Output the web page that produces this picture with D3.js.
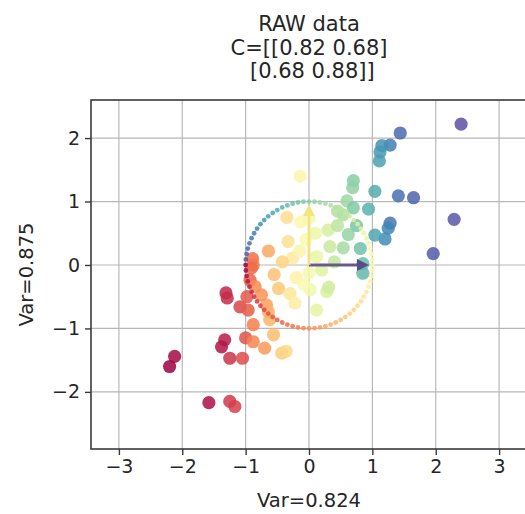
<!DOCTYPE html>
<html>
<head>
<meta charset="utf-8">
<script src="https://cdn.jsdelivr.net/npm/d3@7"></script>
<style>
  html, body { margin: 0; padding: 0; background: #fff; }
  svg { display: block; }
  text { font-family: "DejaVu Sans", sans-serif; fill: #262626; }
</style>
</head>
<body>
<div id="chart"></div>
<script>
// Sample points (x, y)
const pointsX = [2.40, 1.44, 1.28, 1.15, 1.12, 1.11, 0.70, 0.69, 1.04, 1.41,
  1.65, 2.29, 1.96, 0.94, 0.60, 1.28, 1.25, 1.20, 1.04, 0.81,
  0.85, 0.85, 0.70, 0.54, 0.28, 0.31, 0.12, 0.33, 0.54, 0.12,
  0.20, -0.14, -0.35, -0.33, -0.13, 0.00, -0.64, -0.26, -0.89, -0.88,
  -0.91, -0.93, -0.85, -1.09, -0.96, -0.67, -0.64, -0.48, -0.30, -0.22,
  0.02, -0.75, -1.31, -1.29, -0.98, -0.88, -1.00, -0.88, -0.56, -0.70,
  -0.43, -0.36, -1.33, -1.38, -1.25, -1.05, -2.12, -2.20, -1.58, -1.25,
  -1.17, 0.30, 0.45, 0.62, 0.75, -0.05, 0.10, -0.20, -0.08, 0.00,
  -0.15, 0.40, 0.45, -0.42, -0.55, -0.62];
const pointsY = [2.22, 2.08, 1.89, 1.88, 1.78, 1.64, 1.33, 1.22, 1.16, 1.09,
  1.06, 0.72, 0.18, 0.88, 1.01, 0.66, 0.58, 0.41, 0.47, 0.26,
  0.02, -0.13, 0.90, 0.79, -0.42, -0.35, 0.13, 0.29, 0.27, -0.71,
  -0.08, 1.40, 0.75, 0.37, 0.68, 0.74, 0.22, 0.11, 0.10, 0.00,
  -0.05, -0.24, -0.34, -0.66, -0.71, -0.63, -0.74, -0.37, -0.45, -0.60,
  -0.39, -0.47, -0.44, -0.52, -0.50, -0.94, -1.15, -1.21, -1.10, -1.31,
  -1.39, -1.36, -1.18, -1.29, -1.47, -1.47, -1.44, -1.60, -2.17, -2.15,
  -2.23, 0.55, 0.62, 0.48, 0.62, 0.40, 0.50, -0.20, -0.30, -0.12,
  0.22, 0.05, 0.85, 0.05, -0.15, -0.86];

// Unit vectors drawn from the origin
const arrowDX = [0.87, 0.0];
const arrowDY = [0.0, 0.88];
const arrowColors = ["#5d4a86", "#f3e47c"];

// Reference unit circle sampled every 5 degrees
const circleDegrees = d3.range(-180, 180, 5);

const xTicks = [-3, -2, -1, 0, 1, 2, 3];
const yTicks = [-2, -1, 0, 1, 2];
const titleLines = ["RAW data", "C=[[0.82 0.68]", " [0.68 0.88]]"];
const xLabel = "Var=0.824";
const yLabel = "Var=0.875";

const W = 525, H = 514;
const plot = { left: 91, top: 100, right: 527, bottom: 449 };

const x = d3.scaleLinear().domain([-3.44, 3.44]).range([plot.left, plot.right]);
const y = d3.scaleLinear().domain([-2.9, 2.6]).range([plot.bottom, plot.top]);

const svg = d3.select("#chart").append("svg")
  .attr("width", W).attr("height", H);

svg.append("defs").append("clipPath").attr("id", "plotclip")
  .append("rect")
  .attr("x", plot.left).attr("y", plot.top)
  .attr("width", plot.right - plot.left).attr("height", plot.bottom - plot.top);

// Grid
const grid = svg.append("g").attr("stroke", "#b8b8b8").attr("stroke-width", 1.2);
grid.selectAll("line.gx").data(xTicks).join("line").attr("class", "gx")
  .attr("x1", d => x(d)).attr("x2", d => x(d))
  .attr("y1", plot.top).attr("y2", plot.bottom);
grid.selectAll("line.gy").data(yTicks).join("line").attr("class", "gy")
  .attr("y1", d => y(d)).attr("y2", d => y(d))
  .attr("x1", plot.left).attr("x2", plot.right);

// Points coloured by their rank along x
const pts = pointsX.map((v, i) => ({ x: v, y: pointsY[i] }));
const order = d3.range(pts.length).sort((a, b) => pts[a].x - pts[b].x);
order.forEach((idx, r) => { pts[idx].rank = r / (pts.length - 1); });

const body = svg.append("g").attr("clip-path", "url(#plotclip)");

body.selectAll("circle.pt").data(pts).join("circle").attr("class", "pt")
  .attr("cx", d => x(d.x)).attr("cy", d => y(d.y)).attr("r", 6.6)
  .attr("fill", d => d3.interpolateSpectral(d.rank))
  .attr("fill-opacity", 0.85);

// Dotted unit circle coloured by angle
body.selectAll("circle.ring").data(circleDegrees).join("circle").attr("class", "ring")
  .attr("cx", d => x(Math.cos(d * Math.PI / 180)))
  .attr("cy", d => y(Math.sin(d * Math.PI / 180)))
  .attr("r", 2.4)
  .attr("fill", d => d3.interpolateSpectral((d + 180) / 360))
  .attr("fill-opacity", 0.85);

// Arrows
const defs = svg.select("defs");
arrowColors.forEach((c, i) => {
  defs.append("marker").attr("id", "head" + i)
    .attr("viewBox", "0 0 10 10").attr("refX", 6).attr("refY", 5)
    .attr("markerWidth", 4).attr("markerHeight", 4).attr("orient", "auto")
    .append("path").attr("d", "M0,0 L10,5 L0,10 z").attr("fill", c);
});
body.selectAll("line.arrow").data(arrowDX).join("line").attr("class", "arrow")
  .attr("x1", x(0)).attr("y1", y(0))
  .attr("x2", (d, i) => x(d)).attr("y2", (d, i) => y(arrowDY[i]))
  .attr("stroke", (d, i) => arrowColors[i])
  .attr("stroke-width", 3)
  .attr("stroke-opacity", 0.9)
  .attr("marker-end", (d, i) => `url(#head${i})`);

// Frame
svg.append("rect")
  .attr("x", plot.left).attr("y", plot.top)
  .attr("width", plot.right - plot.left).attr("height", plot.bottom - plot.top)
  .attr("fill", "none").attr("stroke", "#3a3a3a").attr("stroke-width", 1.6);

// Axes
const xAxis = d3.axisBottom(x).tickValues(xTicks).tickSize(6).tickPadding(5)
  .tickFormat(d => d < 0 ? "\u2212" + Math.abs(d) : String(d));
const yAxis = d3.axisLeft(y).tickValues(yTicks).tickSize(6).tickPadding(5)
  .tickFormat(d => d < 0 ? "\u2212" + Math.abs(d) : String(d));

const gx = svg.append("g").attr("transform", `translate(0,${plot.bottom})`).call(xAxis);
const gy = svg.append("g").attr("transform", `translate(${plot.left},0)`).call(yAxis);
[gx, gy].forEach(g => {
  g.select(".domain").remove();
  g.selectAll(".tick line").attr("stroke", "#3a3a3a").attr("stroke-width", 1.4);
  g.selectAll(".tick text").attr("font-size", 19).attr("fill", "#262626")
    .style("font-family", "'DejaVu Sans', sans-serif");
});

// Labels
svg.append("text").attr("x", 309).attr("y", 507)
  .attr("text-anchor", "middle").attr("font-size", 19.5).text(xLabel);
svg.append("text")
  .attr("transform", `translate(33,${(plot.top + plot.bottom) / 2}) rotate(-90)`)
  .attr("text-anchor", "middle").attr("font-size", 19.5).text(yLabel);

// Title, one text element per line
svg.selectAll("text.title").data(titleLines).join("text").attr("class", "title")
  .attr("x", 309).attr("y", (d, i) => 31 + i * 23.5)
  .attr("text-anchor", "middle").attr("font-size", 21)
  .attr("xml:space", "preserve")
  .text(d => d);
</script>
</body>
</html>
